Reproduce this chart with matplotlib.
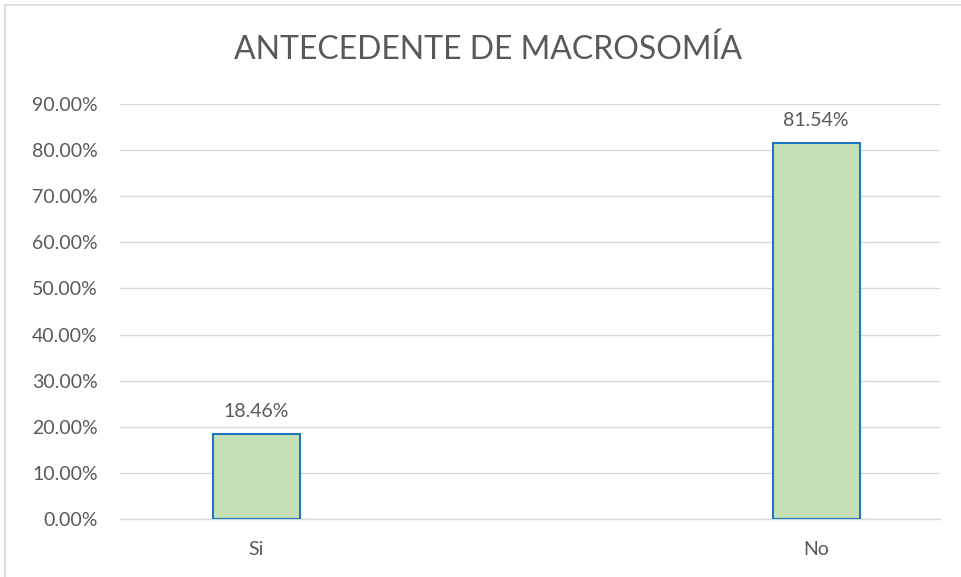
import matplotlib
matplotlib.use("Agg")
import matplotlib.pyplot as plt
from matplotlib.patches import Rectangle
from matplotlib.ticker import FuncFormatter, MultipleLocator

categories = ["Si", "No"]
values = [0.1846, 0.8154]
title = "ANTECEDENTE DE MACROSOMÍA"

plt.rcParams['font.family'] = ['Lato', 'DejaVu Sans']
txt = '#595959'

fig = plt.figure(figsize=(9.61, 5.77), dpi=100)
fig.patch.set_facecolor('white')
fig.patches.append(Rectangle((5/961, -0.05), 1.0, 1.05 - 5/577, transform=fig.transFigure,
                             fill=False, edgecolor='#d9d9d9', linewidth=1.2))

ax = fig.add_axes([120/961, 58/577, 820/961, (519-104)/577])
x = list(range(len(categories)))
bars = ax.bar(x, values, width=0.155, color='#c5e0b4', edgecolor='#1f77c4', linewidth=1.5, zorder=3)
ax.set_xlim(-0.243, 1.221)
ax.set_ylim(0, 0.9)
ax.yaxis.set_major_locator(MultipleLocator(0.1))
ax.yaxis.set_major_formatter(FuncFormatter(lambda v, p: f"{v*100:.2f}%"))
ax.grid(axis='y', color='#d9d9d9', linewidth=1, zorder=0)
for s in ['top', 'right', 'left']:
    ax.spines[s].set_visible(False)
ax.spines['bottom'].set_color('#d9d9d9')
ax.spines['bottom'].set_linewidth(1)
ax.set_xticks(x)
ax.set_xticklabels(categories)
ax.tick_params(axis='both', length=0, labelsize=14, labelcolor=txt)
ax.tick_params(axis='x', pad=16)
ax.tick_params(axis='y', pad=16)

for xi, v in zip(x, values):
    ax.annotate(f"{v*100:.2f}%", (xi, v), xytext=(0, 10), textcoords='offset points',
                ha='center', va='bottom', fontsize=14, color=txt)

fig.text(488/961, 1 - 50/577, title, ha='center', va='center', fontsize=23, color=txt)

fig.savefig('out.png', dpi=100)
